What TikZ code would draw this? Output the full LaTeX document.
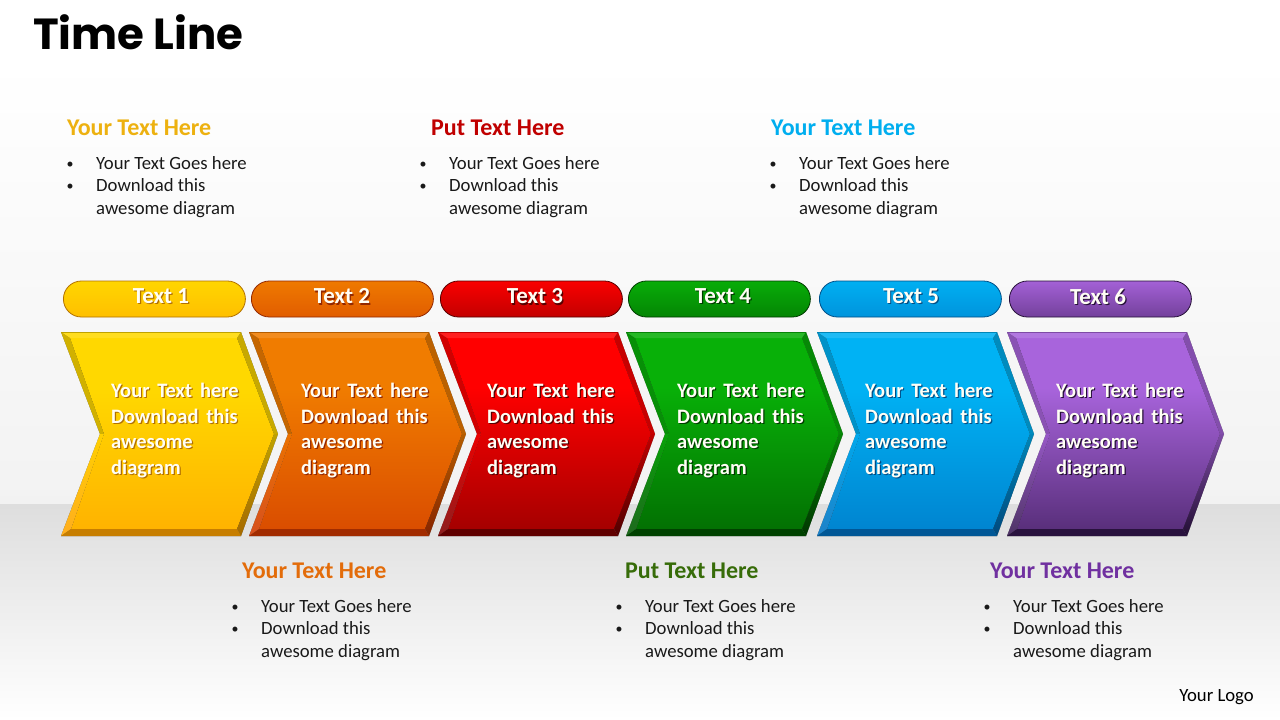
\documentclass[tikz,border=0pt]{standalone}
\usepackage{fontspec}
\setmainfont{Carlito}
\newfontfamily\titlefont{Poppins}
\pgfdeclareverticalshading[chevtop,chevbot]{chevshade}{100bp}{color(0bp)=(chevbot); color(8bp)=(chevbot); color(62bp)=(chevtop); color(100bp)=(chevtop)}
\pgfdeclareverticalshading[chevtop,chevbot]{pillshade}{100bp}{color(0bp)=(chevbot!70!black); color(14bp)=(chevbot!85!black); color(20bp)=(chevtop!50!chevbot); color(80bp)=(chevtop); color(90bp)=(chevtop!65!white); color(100bp)=(chevtop!85!black)}
\def\shtext#1{\leavevmode\rlap{\raisebox{-1.2pt}{\kern1.2pt\color{chevbot!70!black}#1}}#1}
\def\bul{\llap{\makebox[29.5pt][l]{\fontsize{14}{14}\selectfont\raisebox{1pt}{•}}}}
\def\chevfont{\fontsize{20.5}{25.6}\selectfont\bfseries\spaceskip=7.8pt\relax}
\tikzset{
  headtext/.style={anchor=west, inner sep=0pt, font=\fontsize{24}{28}\selectfont\bfseries},
  bodytext/.style={anchor=north west, inner sep=0pt, align=left, text=black!90, font=\fontsize{18.7}{22.6}\selectfont},
  chevtext/.style={anchor=north west, inner sep=0pt, align=left, text=white!96!yellow, font=\chevfont},
  pilltext/.style={inner sep=0pt, text=white!96!yellow, font=\fontsize{23}{26}\selectfont\bfseries},
  pillbox/.style={rounded corners=18pt, minimum width=182pt, minimum height=36pt, inner sep=0pt, shading=pillshade, draw=chevbot!70!black, line width=.8pt}
}
\begin{document}
\begin{tikzpicture}[x=1pt,y=-1pt]
  \useasboundingbox (0,0) rectangle (1280,720);
  \shade[top color=white, bottom color=black!5] (0,60) rectangle (1280,504);
  \shade[top color=black!13, bottom color=white] (0,504) rectangle (1280,720);

  \node[anchor=west, inner sep=0pt, font=\fontsize{43.5}{50}\selectfont\titlefont\bfseries] (title) at (33,32) {Time Line};

  \foreach \i/\x/\px/\tx/\dx/\ca/\cb in {
    1/61/63/161/50/FFD800/FFA200,
    2/249/251/342/52/F07C00/D03800,
    3/438/440/535/49/FF0000/7C0000,
    4/626/628/723/51/08B008/005400,
    5/817/819/911/48/00B2F4/0070C0,
    6/1007/1009/1098/49/A864DC/35174F}{
    \definecolor{chevtop}{HTML}{\ca}
    \definecolor{chevbot}{HTML}{\cb}
    \begin{scope}[shift={(\x,0)}]
      \coordinate (a\i) at (0,332);
      \coordinate (b\i) at (180,332);
      \coordinate (c\i) at (217,434);
      \coordinate (d\i) at (180,536);
      \coordinate (e\i) at (0,536);
      \coordinate (f\i) at (39,434);
      \coordinate (p\i) at (9,338);
      \coordinate (q\i) at (176,338);
      \coordinate (r\i) at (213,434);
      \coordinate (s\i) at (176,529);
      \coordinate (t\i) at (10,529);
      \coordinate (u\i) at (43,434);
      \foreach \o in {1,...,7}{
        \fill[black, opacity=.09, shift={(\o,\o*.6)}] (a\i) -- (b\i) -- (c\i) -- (d\i) -- (e\i) -- (f\i) -- cycle;
      }
      \fill[shading=chevshade] (p\i) -- (q\i) -- (r\i) -- (s\i) -- (t\i) -- (u\i) -- cycle;
      \fill[chevtop!88!white] (a\i) -- (b\i) -- (q\i) -- (p\i) -- cycle;
      \fill[chevtop!82!black] (a\i) -- (p\i) -- (u\i) -- (f\i) -- cycle;
      \shade[top color=chevtop!85!chevbot, bottom color=chevbot!88!white] (f\i) -- (u\i) -- (t\i) -- (e\i) -- cycle;
      \fill[chevtop!78!black] (b\i) -- (c\i) -- (r\i) -- (q\i) -- cycle;
      \shade[top color=chevtop!75!black, bottom color=chevbot!65!black] (c\i) -- (d\i) -- (s\i) -- (r\i) -- cycle;
      \fill[chevbot!78!black] (e\i) -- (t\i) -- (s\i) -- (d\i) -- cycle;
      \draw[chevtop!75!black, line width=.7pt] (a\i) -- (b\i);
      \node[chevtext] (box\i) at (\dx,383) {\shtext{Your Text here}\\\shtext{Download this}\\\shtext{awesome}\\\shtext{diagram}};
    \end{scope}
    \node[pillbox, anchor=west] (pill\i) at (\px,299) {};
    \node[pilltext] (label\i) at (\tx,297) {\shtext{Text \i}};
  }

  \foreach \i/\hx/\tx/\y/\c/\t in {
    1/67/96/128/EDB110/Your Text Here,
    2/431/449/128/C00000/Put Text Here,
    3/771/799/128/00AEEF/Your Text Here,
    4/242/261/571/E36C0A/Your Text Here,
    5/625/645/571/376C09/Put Text Here,
    6/990/1013/571/7030A0/Your Text Here}{
    \definecolor{headcol}{HTML}{\c}
    \node[headtext, text=headcol] (head\i) at (\hx,\y) {\t};
    \node[bodytext] (body\i) at (\tx,\y+28) {\bul Your Text Goes here\\\bul Download this\\awesome diagram};
  }

  \node[anchor=east, inner sep=0pt, font=\fontsize{18.7}{22}\selectfont] (logo) at (1254,697) {Your Logo};
\end{tikzpicture}
\end{document}
